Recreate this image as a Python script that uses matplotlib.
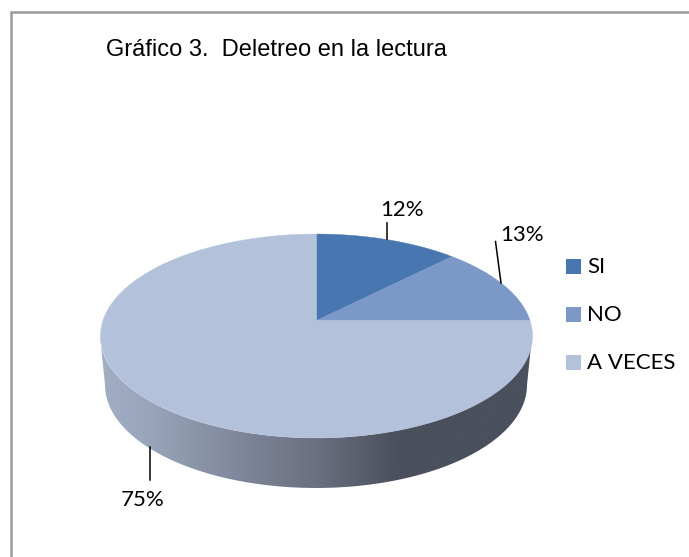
import matplotlib
matplotlib.use('Agg')
import matplotlib.pyplot as plt
import numpy as np
from matplotlib.colors import LinearSegmentedColormap
from matplotlib.patches import PathPatch, Polygon, Rectangle
from matplotlib.path import Path

# datos del grafico
categorias = ['SI', 'NO', 'A VECES']
valores = [12.4, 12.6, 75]
etiquetas = ['12%', '13%', '75%']
colores = ['#4776b0', '#7b98c6', '#b3c2da']
titulo = 'Gráfico 3.  Deletreo en la lectura'

fig = plt.figure(figsize=(6.89, 5.57), dpi=100)
ax = fig.add_axes([0, 0, 1, 1])
ax.set_xlim(0, 689)
ax.set_ylim(557, 0)
ax.axis('off')

# geometria de la torta en perspectiva
cx, cy = 316.5, 320.5
a, b, k = 213.5, 99.6, 0.152


def proyectar(ang):
    # ang en radianes, desde arriba en sentido horario
    u, v = np.sin(ang), np.cos(ang)
    d = 1 + k * v
    return cx + a * u / d, cy - b * v / d


# marco de la pagina
ax.plot([11, 11, 689], [557, 12, 12], color='#9a9a9a', lw=1.8, solid_joinstyle='miter')

# lateral con degradado
t = np.linspace(0, 1, 120)
x_sup = 316 + 216 * np.cos(np.pi * t)
y_sup = 336 + 102 * np.sin(np.pi * t)
x_inf = 316 + 211 * np.cos(np.pi * t)
y_inf = 385 + 103 * np.sin(np.pi * t)
borde = np.vstack([np.column_stack([x_sup, y_sup]), np.column_stack([x_inf[::-1], y_inf[::-1]])])
cmap = LinearSegmentedColormap.from_list('lateral', [
    (0.0, '#a2aec3'), (0.12, '#98a4b9'), (0.35, '#7b8397'), (0.5, '#6b7080'),
    (0.69, '#4a505c'), (1.0, '#4a505c')])
img = ax.imshow(np.linspace(0, 1, 256).reshape(1, -1), cmap=cmap, aspect='auto',
                extent=[100, 532, 500, 330], zorder=1)
ax.set_xlim(0, 689)
ax.set_ylim(557, 0)
img.set_clip_path(PathPatch(Path(borde), transform=ax.transData))

# sectores
inicio = 0.0
for val, col in zip(valores, colores):
    fin = inicio + val / sum(valores) * 2 * np.pi
    angs = np.linspace(inicio, fin, 200)
    xs, ys = proyectar(angs)
    pts = np.column_stack([np.r_[cx, xs], np.r_[cy, ys]])
    ax.add_patch(Polygon(pts, closed=True, facecolor=col, edgecolor=col, lw=0.3, zorder=2))
    inicio = fin

# lineas guia y porcentajes
guias = [([386.5, 386.5], [223, 239]), ([495.5, 501], [241.5, 283]), ([150, 150], [447, 480])]
pos_etiquetas = [(402, 216), (522.5, 241), (143, 506)]
for (gx, gy), (ex, ey), txt in zip(guias, pos_etiquetas, etiquetas):
    ax.plot(gx, gy, color='black', lw=1.1, zorder=3)
    ax.text(ex, ey, txt, family='Lato', fontsize=16, ha='center', va='baseline', color='black')

# leyenda
for cat, col, yy in zip(categorias, colores, [266.5, 314.5, 362.5]):
    ax.add_patch(Rectangle((566, yy - 7.5), 15, 15, facecolor=col, edgecolor='none'))
    ax.text(587, yy + 6.8, cat, family='Lato', fontsize=16, ha='left', va='baseline', color='black')

ax.text(106, 56, titulo, family='Liberation Sans', fontsize=17, ha='left', va='baseline', color='black')

fig.savefig('out.png', dpi=100)
